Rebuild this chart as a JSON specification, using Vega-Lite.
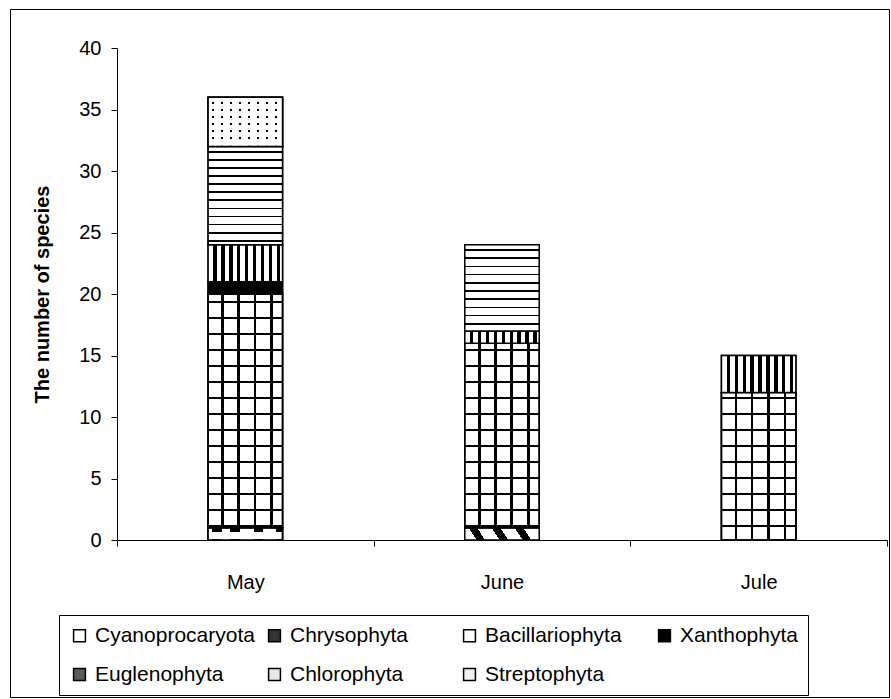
{
  "$schema": "https://vega.github.io/schema/vega-lite/v6.json",
  "autosize": "none",
  "width": 879,
  "height": 688,
  "padding": {"left": 10, "top": 9, "right": 2, "bottom": 2},
  "background": "white",
  "config": {
    "font": "Liberation Sans",
    "view": {"stroke": "black", "strokeWidth": 1}
  },
  "data": {
    "values": [
      {"month": "May", "group": "Cyanoprocaryota", "count": 1},
      {"month": "May", "group": "Bacillariophyta", "count": 19},
      {"month": "May", "group": "Xanthophyta", "count": 1},
      {"month": "May", "group": "Euglenophyta", "count": 3},
      {"month": "May", "group": "Chlorophyta", "count": 8},
      {"month": "May", "group": "Streptophyta", "count": 4},
      {"month": "June", "group": "Chrysophyta", "count": 1},
      {"month": "June", "group": "Bacillariophyta", "count": 15},
      {"month": "June", "group": "Euglenophyta", "count": 1},
      {"month": "June", "group": "Chlorophyta", "count": 7},
      {"month": "Jule", "group": "Bacillariophyta", "count": 12},
      {"month": "Jule", "group": "Euglenophyta", "count": 3}
    ]
  },
  "transform": [
    {"stack": "count", "groupby": ["month"], "as": ["lo", "hi"]}
  ],
  "encoding": {
    "x": {
      "field": "month",
      "type": "nominal",
      "sort": ["May", "June", "Jule"],
      "scale": {"range": [107, 877], "paddingInner": 0, "paddingOuter": 0},
      "axis": {
        "orient": "bottom",
        "offset": -157,
        "title": null,
        "labelAngle": 0,
        "tickBand": "extent",
        "tickSize": 6,
        "tickColor": "black",
        "domainColor": "black",
        "labelFontSize": 20,
        "labelColor": "black",
        "labelPadding": 26
      }
    },
    "y": {
      "field": "hi",
      "type": "quantitative",
      "scale": {"domain": [0, 40], "range": [531, 39], "nice": false},
      "axis": {
        "orient": "left",
        "offset": -107,
        "values": [0, 5, 10, 15, 20, 25, 30, 35, 40],
        "grid": false,
        "tickSize": 6,
        "tickColor": "black",
        "domainColor": "black",
        "labelFontSize": 20,
        "labelColor": "black",
        "labelPadding": 10,
        "title": "The number of species",
        "titleFontSize": 20,
        "titleFontWeight": "bold",
        "titleColor": "black",
        "titlePadding": 26
      }
    },
    "y2": {"field": "lo"}
  },
  "layer": [
    {
      "mark": {"type": "bar", "width": {"band": 0.29}, "stroke": "black", "strokeWidth": 1.5},
      "encoding": {
        "color": {
          "field": "group",
          "type": "nominal",
          "scale": {
            "domain": ["Cyanoprocaryota", "Chrysophyta", "Bacillariophyta", "Xanthophyta", "Euglenophyta", "Chlorophyta", "Streptophyta"],
            "range": ["#ffffff", "#333333", "#ffffff", "#000000", "#5a5a5a", "#e6e6e6", "#f0f0f0"]
          },
          "legend": {
            "orient": "none",
            "legendX": 49,
            "legendY": 606,
            "direction": "horizontal",
            "columns": 4,
            "gridAlign": "all",
            "title": null,
            "symbolType": "square",
            "symbolSize": 140,
            "symbolStrokeColor": "black",
            "symbolStrokeWidth": 1.5,
            "labelFontSize": 21,
            "labelColor": "black",
            "labelLimit": 400,
            "labelOffset": 5,
            "columnPadding": 9,
            "rowPadding": 17,
            "padding": 10,
            "strokeColor": "black",
            "fillColor": "white"
          }
        }
      }
    },
    {
      "transform": [{"filter": {"field": "group", "equal": "Cyanoprocaryota"}}],
      "mark": {"type": "bar", "width": {"band": 0.29}, "stroke": "black", "strokeWidth": 1.5,
        "fill": {"gradient": "linear", "x1": 0, "y1": 0, "x2": 0, "y2": 1, "stops": [
          {"offset": 0, "color": "white"}, {"offset": 0.04, "color": "white"}, {"offset": 0.04, "color": "black"},
          {"offset": 0.33, "color": "black"}, {"offset": 0.33, "color": "white"}, {"offset": 1, "color": "white"}]}}
    },
    {
      "transform": [{"filter": {"field": "group", "equal": "Cyanoprocaryota"}}],
      "mark": {"type": "bar", "width": {"band": 0.29}, "stroke": "black", "strokeWidth": 1.5,
        "fill": {"gradient": "linear", "x1": 0, "y1": 0, "x2": 1, "y2": 0, "stops": [
          {"offset": 0, "color": "white"},
          {"offset": 0.05, "color": "white"}, {"offset": 0.05, "color": "rgba(0,0,0,0)"}, {"offset": 0.18, "color": "rgba(0,0,0,0)"}, {"offset": 0.18, "color": "white"},
          {"offset": 0.30, "color": "white"}, {"offset": 0.30, "color": "rgba(0,0,0,0)"}, {"offset": 0.43, "color": "rgba(0,0,0,0)"}, {"offset": 0.43, "color": "white"},
          {"offset": 0.61, "color": "white"}, {"offset": 0.61, "color": "rgba(0,0,0,0)"}, {"offset": 0.74, "color": "rgba(0,0,0,0)"}, {"offset": 0.74, "color": "white"},
          {"offset": 0.91, "color": "white"}, {"offset": 0.91, "color": "rgba(0,0,0,0)"}, {"offset": 1, "color": "rgba(0,0,0,0)"}]}}
    },
    {
      "transform": [{"filter": {"field": "group", "equal": "Chrysophyta"}}],
      "mark": {"type": "bar", "width": {"band": 0.29}, "stroke": "black", "strokeWidth": 1.5,
        "fill": {"gradient": "linear", "x1": 0, "y1": 1, "x2": 1.0945, "y2": 0.8829, "stops": [
          {"offset": 0, "color": "white"},
          {"offset": 0.142, "color": "white"}, {"offset": 0.142, "color": "black"}, {"offset": 0.246, "color": "black"}, {"offset": 0.246, "color": "white"},
          {"offset": 0.422, "color": "white"}, {"offset": 0.422, "color": "black"}, {"offset": 0.526, "color": "black"}, {"offset": 0.526, "color": "white"},
          {"offset": 0.702, "color": "white"}, {"offset": 0.702, "color": "black"}, {"offset": 0.806, "color": "black"}, {"offset": 0.806, "color": "white"},
          {"offset": 0.982, "color": "white"}, {"offset": 0.982, "color": "black"}, {"offset": 1, "color": "black"}]}}
    },
    {
      "transform": [{"filter": {"and": [{"field": "group", "equal": "Bacillariophyta"}, {"field": "month", "equal": "May"}]}}],
      "mark": {"type": "bar", "width": {"band": 0.29}, "stroke": "black", "strokeWidth": 1.5,
        "fill": {"gradient": "linear", "x1": 0, "y1": 0, "x2": 0, "y2": 1, "stops": [
          {"offset": 0, "color": "white"},
          {"offset": 0.0288, "color": "white"}, {"offset": 0.0288, "color": "black"}, {"offset": 0.0396, "color": "black"}, {"offset": 0.0396, "color": "white"},
          {"offset": 0.0973, "color": "white"}, {"offset": 0.0973, "color": "black"}, {"offset": 0.1081, "color": "black"}, {"offset": 0.1081, "color": "white"},
          {"offset": 0.1658, "color": "white"}, {"offset": 0.1658, "color": "black"}, {"offset": 0.1766, "color": "black"}, {"offset": 0.1766, "color": "white"},
          {"offset": 0.2342, "color": "white"}, {"offset": 0.2342, "color": "black"}, {"offset": 0.2450, "color": "black"}, {"offset": 0.2450, "color": "white"},
          {"offset": 0.3027, "color": "white"}, {"offset": 0.3027, "color": "black"}, {"offset": 0.3135, "color": "black"}, {"offset": 0.3135, "color": "white"},
          {"offset": 0.3712, "color": "white"}, {"offset": 0.3712, "color": "black"}, {"offset": 0.3820, "color": "black"}, {"offset": 0.3820, "color": "white"},
          {"offset": 0.4396, "color": "white"}, {"offset": 0.4396, "color": "black"}, {"offset": 0.4504, "color": "black"}, {"offset": 0.4504, "color": "white"},
          {"offset": 0.5081, "color": "white"}, {"offset": 0.5081, "color": "black"}, {"offset": 0.5189, "color": "black"}, {"offset": 0.5189, "color": "white"},
          {"offset": 0.5765, "color": "white"}, {"offset": 0.5765, "color": "black"}, {"offset": 0.5873, "color": "black"}, {"offset": 0.5873, "color": "white"},
          {"offset": 0.6450, "color": "white"}, {"offset": 0.6450, "color": "black"}, {"offset": 0.6558, "color": "black"}, {"offset": 0.6558, "color": "white"},
          {"offset": 0.7135, "color": "white"}, {"offset": 0.7135, "color": "black"}, {"offset": 0.7243, "color": "black"}, {"offset": 0.7243, "color": "white"},
          {"offset": 0.7819, "color": "white"}, {"offset": 0.7819, "color": "black"}, {"offset": 0.7927, "color": "black"}, {"offset": 0.7927, "color": "white"},
          {"offset": 0.8504, "color": "white"}, {"offset": 0.8504, "color": "black"}, {"offset": 0.8612, "color": "black"}, {"offset": 0.8612, "color": "white"},
          {"offset": 0.9189, "color": "white"}, {"offset": 0.9189, "color": "black"}, {"offset": 0.9297, "color": "black"}, {"offset": 0.9297, "color": "white"},
          {"offset": 0.9873, "color": "white"}, {"offset": 0.9873, "color": "black"}, {"offset": 0.9981, "color": "black"}, {"offset": 0.9981, "color": "white"},
          {"offset": 1, "color": "white"}]}}
    },
    {
      "transform": [{"filter": {"and": [{"field": "group", "equal": "Bacillariophyta"}, {"field": "month", "equal": "June"}]}}],
      "mark": {"type": "bar", "width": {"band": 0.29}, "stroke": "black", "strokeWidth": 1.5,
        "fill": {"gradient": "linear", "x1": 0, "y1": 0, "x2": 0, "y2": 1, "stops": [
          {"offset": 0, "color": "white"},
          {"offset": 0.0301, "color": "white"}, {"offset": 0.0301, "color": "black"}, {"offset": 0.0437, "color": "black"}, {"offset": 0.0437, "color": "white"},
          {"offset": 0.1168, "color": "white"}, {"offset": 0.1168, "color": "black"}, {"offset": 0.1304, "color": "black"}, {"offset": 0.1304, "color": "white"},
          {"offset": 0.2035, "color": "white"}, {"offset": 0.2035, "color": "black"}, {"offset": 0.2171, "color": "black"}, {"offset": 0.2171, "color": "white"},
          {"offset": 0.2902, "color": "white"}, {"offset": 0.2902, "color": "black"}, {"offset": 0.3038, "color": "black"}, {"offset": 0.3038, "color": "white"},
          {"offset": 0.3769, "color": "white"}, {"offset": 0.3769, "color": "black"}, {"offset": 0.3905, "color": "black"}, {"offset": 0.3905, "color": "white"},
          {"offset": 0.4637, "color": "white"}, {"offset": 0.4637, "color": "black"}, {"offset": 0.4773, "color": "black"}, {"offset": 0.4773, "color": "white"},
          {"offset": 0.5504, "color": "white"}, {"offset": 0.5504, "color": "black"}, {"offset": 0.5640, "color": "black"}, {"offset": 0.5640, "color": "white"},
          {"offset": 0.6371, "color": "white"}, {"offset": 0.6371, "color": "black"}, {"offset": 0.6507, "color": "black"}, {"offset": 0.6507, "color": "white"},
          {"offset": 0.7238, "color": "white"}, {"offset": 0.7238, "color": "black"}, {"offset": 0.7374, "color": "black"}, {"offset": 0.7374, "color": "white"},
          {"offset": 0.8105, "color": "white"}, {"offset": 0.8105, "color": "black"}, {"offset": 0.8241, "color": "black"}, {"offset": 0.8241, "color": "white"},
          {"offset": 0.8973, "color": "white"}, {"offset": 0.8973, "color": "black"}, {"offset": 0.9109, "color": "black"}, {"offset": 0.9109, "color": "white"},
          {"offset": 0.9840, "color": "white"}, {"offset": 0.9840, "color": "black"}, {"offset": 0.9976, "color": "black"}, {"offset": 0.9976, "color": "white"},
          {"offset": 1, "color": "white"}]}}
    },
    {
      "transform": [{"filter": {"and": [{"field": "group", "equal": "Bacillariophyta"}, {"field": "month", "equal": "Jule"}]}}],
      "mark": {"type": "bar", "width": {"band": 0.29}, "stroke": "black", "strokeWidth": 1.5,
        "fill": {"gradient": "linear", "x1": 0, "y1": 0, "x2": 0, "y2": 1, "stops": [
          {"offset": 0, "color": "white"},
          {"offset": 0.0294, "color": "white"}, {"offset": 0.0294, "color": "black"}, {"offset": 0.0464, "color": "black"}, {"offset": 0.0464, "color": "white"},
          {"offset": 0.1378, "color": "white"}, {"offset": 0.1378, "color": "black"}, {"offset": 0.1548, "color": "black"}, {"offset": 0.1548, "color": "white"},
          {"offset": 0.2462, "color": "white"}, {"offset": 0.2462, "color": "black"}, {"offset": 0.2632, "color": "black"}, {"offset": 0.2632, "color": "white"},
          {"offset": 0.3546, "color": "white"}, {"offset": 0.3546, "color": "black"}, {"offset": 0.3716, "color": "black"}, {"offset": 0.3716, "color": "white"},
          {"offset": 0.4630, "color": "white"}, {"offset": 0.4630, "color": "black"}, {"offset": 0.4800, "color": "black"}, {"offset": 0.4800, "color": "white"},
          {"offset": 0.5714, "color": "white"}, {"offset": 0.5714, "color": "black"}, {"offset": 0.5884, "color": "black"}, {"offset": 0.5884, "color": "white"},
          {"offset": 0.6798, "color": "white"}, {"offset": 0.6798, "color": "black"}, {"offset": 0.6968, "color": "black"}, {"offset": 0.6968, "color": "white"},
          {"offset": 0.7882, "color": "white"}, {"offset": 0.7882, "color": "black"}, {"offset": 0.8052, "color": "black"}, {"offset": 0.8052, "color": "white"},
          {"offset": 0.8966, "color": "white"}, {"offset": 0.8966, "color": "black"}, {"offset": 0.9136, "color": "black"}, {"offset": 0.9136, "color": "white"},
          {"offset": 1, "color": "white"}]}}
    },
    {
      "transform": [{"filter": {"field": "group", "equal": "Bacillariophyta"}}],
      "mark": {"type": "bar", "width": {"band": 0.29}, "stroke": "black", "strokeWidth": 1.5,
        "fill": {"gradient": "linear", "x1": 0, "y1": 0, "x2": 1, "y2": 0, "stops": [
          {"offset": 0, "color": "rgba(0,0,0,0)"},
          {"offset": 0.178, "color": "rgba(0,0,0,0)"}, {"offset": 0.178, "color": "black"}, {"offset": 0.212, "color": "black"}, {"offset": 0.212, "color": "rgba(0,0,0,0)"},
          {"offset": 0.393, "color": "rgba(0,0,0,0)"}, {"offset": 0.393, "color": "black"}, {"offset": 0.427, "color": "black"}, {"offset": 0.427, "color": "rgba(0,0,0,0)"},
          {"offset": 0.614, "color": "rgba(0,0,0,0)"}, {"offset": 0.614, "color": "black"}, {"offset": 0.648, "color": "black"}, {"offset": 0.648, "color": "rgba(0,0,0,0)"},
          {"offset": 0.836, "color": "rgba(0,0,0,0)"}, {"offset": 0.836, "color": "black"}, {"offset": 0.870, "color": "black"}, {"offset": 0.870, "color": "rgba(0,0,0,0)"},
          {"offset": 1, "color": "rgba(0,0,0,0)"}]}}
    },
    {
      "transform": [{"filter": {"field": "group", "equal": "Xanthophyta"}}],
      "mark": {"type": "bar", "width": {"band": 0.29}, "stroke": "black", "strokeWidth": 1.5, "fill": "black"}
    },
    {
      "transform": [{"filter": {"field": "group", "equal": "Euglenophyta"}}],
      "mark": {"type": "bar", "width": {"band": 0.29}, "stroke": "black", "strokeWidth": 1.5,
        "fill": {"gradient": "linear", "x1": 0, "y1": 0, "x2": 1, "y2": 0, "stops": [
          {"offset": 0, "color": "white"},
          {"offset": 0.071, "color": "white"}, {"offset": 0.071, "color": "black"}, {"offset": 0.117, "color": "black"}, {"offset": 0.117, "color": "white"},
          {"offset": 0.177, "color": "white"}, {"offset": 0.177, "color": "black"}, {"offset": 0.223, "color": "black"}, {"offset": 0.223, "color": "white"},
          {"offset": 0.283, "color": "white"}, {"offset": 0.283, "color": "black"}, {"offset": 0.329, "color": "black"}, {"offset": 0.329, "color": "white"},
          {"offset": 0.389, "color": "white"}, {"offset": 0.389, "color": "black"}, {"offset": 0.435, "color": "black"}, {"offset": 0.435, "color": "white"},
          {"offset": 0.496, "color": "white"}, {"offset": 0.496, "color": "black"}, {"offset": 0.542, "color": "black"}, {"offset": 0.542, "color": "white"},
          {"offset": 0.602, "color": "white"}, {"offset": 0.602, "color": "black"}, {"offset": 0.648, "color": "black"}, {"offset": 0.648, "color": "white"},
          {"offset": 0.708, "color": "white"}, {"offset": 0.708, "color": "black"}, {"offset": 0.754, "color": "black"}, {"offset": 0.754, "color": "white"},
          {"offset": 0.814, "color": "white"}, {"offset": 0.814, "color": "black"}, {"offset": 0.860, "color": "black"}, {"offset": 0.860, "color": "white"},
          {"offset": 0.920, "color": "white"}, {"offset": 0.920, "color": "black"}, {"offset": 0.966, "color": "black"}, {"offset": 0.966, "color": "white"},
          {"offset": 1, "color": "white"}]}}
    },
    {
      "transform": [{"filter": {"and": [{"field": "group", "equal": "Chlorophyta"}, {"field": "month", "equal": "May"}]}}],
      "mark": {"type": "bar", "width": {"band": 0.29}, "stroke": "black", "strokeWidth": 1.5,
        "fill": {"gradient": "linear", "x1": 0, "y1": 0, "x2": 0, "y2": 1, "stops": [
          {"offset": 0, "color": "white"},
          {"offset": 0.0453, "color": "white"}, {"offset": 0.0453, "color": "black"}, {"offset": 0.0625, "color": "black"}, {"offset": 0.0625, "color": "white"},
          {"offset": 0.1276, "color": "white"}, {"offset": 0.1276, "color": "black"}, {"offset": 0.1448, "color": "black"}, {"offset": 0.1448, "color": "white"},
          {"offset": 0.2099, "color": "white"}, {"offset": 0.2099, "color": "black"}, {"offset": 0.2271, "color": "black"}, {"offset": 0.2271, "color": "white"},
          {"offset": 0.2922, "color": "white"}, {"offset": 0.2922, "color": "black"}, {"offset": 0.3094, "color": "black"}, {"offset": 0.3094, "color": "white"},
          {"offset": 0.3745, "color": "white"}, {"offset": 0.3745, "color": "black"}, {"offset": 0.3917, "color": "black"}, {"offset": 0.3917, "color": "white"},
          {"offset": 0.4568, "color": "white"}, {"offset": 0.4568, "color": "black"}, {"offset": 0.4740, "color": "black"}, {"offset": 0.4740, "color": "white"},
          {"offset": 0.5392, "color": "white"}, {"offset": 0.5392, "color": "black"}, {"offset": 0.5564, "color": "black"}, {"offset": 0.5564, "color": "white"},
          {"offset": 0.6215, "color": "white"}, {"offset": 0.6215, "color": "black"}, {"offset": 0.6387, "color": "black"}, {"offset": 0.6387, "color": "white"},
          {"offset": 0.7038, "color": "white"}, {"offset": 0.7038, "color": "black"}, {"offset": 0.7210, "color": "black"}, {"offset": 0.7210, "color": "white"},
          {"offset": 0.7861, "color": "white"}, {"offset": 0.7861, "color": "black"}, {"offset": 0.8033, "color": "black"}, {"offset": 0.8033, "color": "white"},
          {"offset": 0.8684, "color": "white"}, {"offset": 0.8684, "color": "black"}, {"offset": 0.8856, "color": "black"}, {"offset": 0.8856, "color": "white"},
          {"offset": 0.9507, "color": "white"}, {"offset": 0.9507, "color": "black"}, {"offset": 0.9679, "color": "black"}, {"offset": 0.9679, "color": "white"},
          {"offset": 1, "color": "white"}]}}
    },
    {
      "transform": [{"filter": {"and": [{"field": "group", "equal": "Chlorophyta"}, {"field": "month", "equal": "June"}]}}],
      "mark": {"type": "bar", "width": {"band": 0.29}, "stroke": "black", "strokeWidth": 1.5,
        "fill": {"gradient": "linear", "x1": 0, "y1": 0, "x2": 0, "y2": 1, "stops": [
          {"offset": 0, "color": "white"},
          {"offset": 0.0505, "color": "white"}, {"offset": 0.0505, "color": "black"}, {"offset": 0.0703, "color": "black"}, {"offset": 0.0703, "color": "white"},
          {"offset": 0.1457, "color": "white"}, {"offset": 0.1457, "color": "black"}, {"offset": 0.1655, "color": "black"}, {"offset": 0.1655, "color": "white"},
          {"offset": 0.2410, "color": "white"}, {"offset": 0.2410, "color": "black"}, {"offset": 0.2608, "color": "black"}, {"offset": 0.2608, "color": "white"},
          {"offset": 0.3362, "color": "white"}, {"offset": 0.3362, "color": "black"}, {"offset": 0.3560, "color": "black"}, {"offset": 0.3560, "color": "white"},
          {"offset": 0.4314, "color": "white"}, {"offset": 0.4314, "color": "black"}, {"offset": 0.4512, "color": "black"}, {"offset": 0.4512, "color": "white"},
          {"offset": 0.5267, "color": "white"}, {"offset": 0.5267, "color": "black"}, {"offset": 0.5465, "color": "black"}, {"offset": 0.5465, "color": "white"},
          {"offset": 0.6219, "color": "white"}, {"offset": 0.6219, "color": "black"}, {"offset": 0.6417, "color": "black"}, {"offset": 0.6417, "color": "white"},
          {"offset": 0.7172, "color": "white"}, {"offset": 0.7172, "color": "black"}, {"offset": 0.7370, "color": "black"}, {"offset": 0.7370, "color": "white"},
          {"offset": 0.8124, "color": "white"}, {"offset": 0.8124, "color": "black"}, {"offset": 0.8322, "color": "black"}, {"offset": 0.8322, "color": "white"},
          {"offset": 0.9076, "color": "white"}, {"offset": 0.9076, "color": "black"}, {"offset": 0.9274, "color": "black"}, {"offset": 0.9274, "color": "white"},
          {"offset": 1, "color": "white"}]}}
    },
    {
      "transform": [{"filter": {"field": "group", "equal": "Streptophyta"}}],
      "mark": {"type": "bar", "width": {"band": 0.29}, "stroke": "black", "strokeWidth": 1.5,
        "fill": {"gradient": "linear", "x1": 0, "y1": 0, "x2": 0, "y2": 1, "stops": [
          {"offset": 0, "color": "white"},
          {"offset": 0.1037, "color": "white"}, {"offset": 0.1037, "color": "black"}, {"offset": 0.1443, "color": "black"}, {"offset": 0.1443, "color": "white"},
          {"offset": 0.2437, "color": "white"}, {"offset": 0.2437, "color": "black"}, {"offset": 0.2843, "color": "black"}, {"offset": 0.2843, "color": "white"},
          {"offset": 0.3837, "color": "white"}, {"offset": 0.3837, "color": "black"}, {"offset": 0.4243, "color": "black"}, {"offset": 0.4243, "color": "white"},
          {"offset": 0.5247, "color": "white"}, {"offset": 0.5247, "color": "black"}, {"offset": 0.5653, "color": "black"}, {"offset": 0.5653, "color": "white"},
          {"offset": 0.6647, "color": "white"}, {"offset": 0.6647, "color": "black"}, {"offset": 0.7053, "color": "black"}, {"offset": 0.7053, "color": "white"},
          {"offset": 0.8047, "color": "white"}, {"offset": 0.8047, "color": "black"}, {"offset": 0.8453, "color": "black"}, {"offset": 0.8453, "color": "white"},
          {"offset": 1, "color": "white"}]}}
    },
    {
      "transform": [{"filter": {"field": "group", "equal": "Streptophyta"}}],
      "mark": {"type": "bar", "width": {"band": 0.29}, "stroke": "black", "strokeWidth": 1.5,
        "fill": {"gradient": "linear", "x1": 0, "y1": 0, "x2": 1, "y2": 0, "stops": [
          {"offset": 0, "color": "white"},
          {"offset": 0.0536, "color": "white"}, {"offset": 0.0536, "color": "rgba(0,0,0,0)"}, {"offset": 0.0804, "color": "rgba(0,0,0,0)"}, {"offset": 0.0804, "color": "white"},
          {"offset": 0.1746, "color": "white"}, {"offset": 0.1746, "color": "rgba(0,0,0,0)"}, {"offset": 0.2014, "color": "rgba(0,0,0,0)"}, {"offset": 0.2014, "color": "white"},
          {"offset": 0.2956, "color": "white"}, {"offset": 0.2956, "color": "rgba(0,0,0,0)"}, {"offset": 0.3224, "color": "rgba(0,0,0,0)"}, {"offset": 0.3224, "color": "white"},
          {"offset": 0.4166, "color": "white"}, {"offset": 0.4166, "color": "rgba(0,0,0,0)"}, {"offset": 0.4434, "color": "rgba(0,0,0,0)"}, {"offset": 0.4434, "color": "white"},
          {"offset": 0.5376, "color": "white"}, {"offset": 0.5376, "color": "rgba(0,0,0,0)"}, {"offset": 0.5644, "color": "rgba(0,0,0,0)"}, {"offset": 0.5644, "color": "white"},
          {"offset": 0.6586, "color": "white"}, {"offset": 0.6586, "color": "rgba(0,0,0,0)"}, {"offset": 0.6854, "color": "rgba(0,0,0,0)"}, {"offset": 0.6854, "color": "white"},
          {"offset": 0.7796, "color": "white"}, {"offset": 0.7796, "color": "rgba(0,0,0,0)"}, {"offset": 0.8064, "color": "rgba(0,0,0,0)"}, {"offset": 0.8064, "color": "white"},
          {"offset": 0.9006, "color": "white"}, {"offset": 0.9006, "color": "rgba(0,0,0,0)"}, {"offset": 0.9274, "color": "rgba(0,0,0,0)"}, {"offset": 0.9274, "color": "white"},
          {"offset": 1, "color": "white"}]}}
    }
  ]
}
